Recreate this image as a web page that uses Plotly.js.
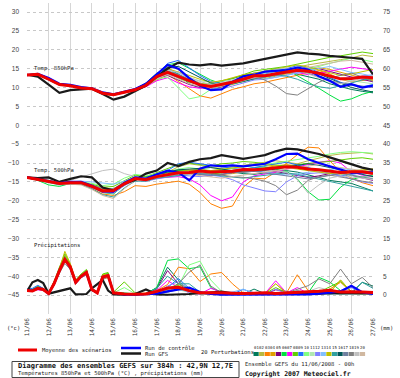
<!DOCTYPE html>
<html><head><meta charset="utf-8">
<script src="https://cdn.plot.ly/plotly-3.0.1.min.js"></script>
<style>body{margin:0;background:#fff}#c{width:400px;height:378px}</style>
</head><body><div id="c"></div>
<script>
// ---------- DATA ----------
const dateLabels = ['11/06','12/06','13/06','14/06','15/06','16/06','17/06','18/06','19/06','20/06','21/06','22/06','23/06','24/06','25/06','26/06','27/06'];
const dayHours = [0,24,48,72,96,120,144,168,192,216,240,264,288,312,336,360,384];
const hours12 = [0,12,24,36,48,60,72,84,96,108,120,132,144,156,168,180,192,204,216,228,240,252,264,276,288,300,312,324,336,348,360,372,384];
const precipHours = [0,6,12,18,24,30,36,42,48,54,60,66,72,78,84,90,96,108,120,132,144,156,168,180,192,204,216,228,240,252,264,276,288,300,312,324,336,348,360,372,384];
const leftTicks = [-45,-40,-35,-30,-25,-20,-15,-10,-5,0,5,10,15,20,25,30];
const rightTicks = [0,5,10,15,20,25,30,35,40,45,50,55,60,65,70,75];
const pertLabels = ['01','02','03','04','05','06','07','08','09','10','11','12','13','14','15','16','17','18','19','20'];
const pertColors = ['#007a5a','#b8b840','#ff8000','#e0a000','#800080','#00e040','#ff00ff','#60d000','#2070ff','#80ff80','#b0e8b0','#8080ff','#80c0ff','#c0c000','#30a0a0','#005858','#7080a0','#808080','#c0c0c0','#d0b8a0'];

// Temperature 850 hPa (°C), 12-hourly
const mean850 = [13.3,13.5,12.2,10.8,10.5,9.9,9.7,8.5,8.1,8.7,9.4,10.6,12.9,14.0,12.9,11.7,10.7,10.3,10.8,11.4,12.2,13.1,13.1,13.7,14.1,14.6,14.3,13.8,13.0,12.3,12.4,12.8,12.6];
const control850 = [13.3,13.6,12.5,11.0,10.7,10.1,9.8,8.7,8.2,8.8,9.6,11.0,13.5,16.0,15.0,12.5,10.5,9.3,9.5,11.5,13.0,13.4,14.2,14.4,14.6,15.3,14.8,13.0,11.8,10.2,10.9,10.0,10.5];
const gfs850 = [13.4,12.9,10.8,8.6,9.3,9.5,9.7,8.3,6.8,7.6,9.0,10.5,12.8,15.0,16.6,16.1,15.9,16.2,15.8,16.1,16.4,17.0,17.6,18.2,18.6,19.3,19.0,18.8,18.4,18.2,17.9,17.6,13.5];
const pert850 = [
[13.4,13.6,12.4,11.0,10.6,10.0,9.6,8.4,8.0,8.8,9.6,11.2,13.8,15.2,13.5,11.0,10.0,10.8,11.5,12.4,13.2,13.8,14.0,14.5,14.2,13.5,12.8,12.2,11.0,10.2,9.5,9.0,8.6],
[13.2,13.4,12.0,10.6,10.4,9.8,9.8,8.6,8.2,8.6,9.2,10.2,12.4,15.8,14.8,12.5,11.2,10.4,11.0,12.0,12.8,13.0,12.4,13.0,14.2,15.4,16.0,16.5,17.0,17.4,17.8,18.6,18.2],
[13.3,13.6,12.3,10.9,10.6,10.0,9.8,8.6,8.2,8.9,9.5,10.4,12.0,13.4,11.6,9.6,7.8,7.2,8.4,9.5,10.2,11.0,11.4,12.0,12.6,13.2,13.8,14.5,13.6,12.2,11.5,11.8,12.2],
[13.3,13.5,12.2,10.8,10.5,9.9,9.6,8.4,8.0,8.6,9.3,10.8,13.2,14.5,13.0,12.0,11.0,10.5,10.2,10.8,11.6,12.5,13.0,13.2,13.6,14.0,14.6,15.2,14.8,14.0,13.2,12.5,11.8],
[13.2,13.4,12.1,10.7,10.4,10.0,9.8,8.6,8.1,8.7,9.3,10.5,12.6,13.2,12.0,10.8,10.0,9.6,10.2,11.0,11.8,12.6,12.8,13.4,14.0,14.8,15.4,15.0,14.2,13.6,12.8,12.2,11.5],
[13.4,13.6,12.4,11.0,10.6,10.0,9.7,8.4,8.0,8.8,9.6,11.0,13.6,16.0,16.6,15.0,13.4,12.0,11.0,11.8,12.4,13.4,14.2,15.0,14.8,13.2,11.5,9.8,8.0,6.4,7.0,8.2,9.0],
[13.3,13.7,12.6,11.0,10.6,9.8,9.7,8.5,8.2,8.8,9.4,10.2,11.8,12.6,11.2,10.2,9.8,10.2,10.8,11.2,12.0,12.8,13.2,13.8,14.4,14.0,13.4,13.8,14.4,15.0,15.4,15.0,14.6],
[13.3,13.5,12.2,10.9,10.6,9.9,9.5,8.3,7.9,8.6,9.4,10.6,12.8,14.2,12.5,11.4,10.8,11.2,11.8,12.4,13.4,14.4,14.8,15.2,15.6,16.2,16.8,17.5,18.0,18.4,18.8,19.4,19.0],
[13.4,13.5,12.3,10.8,10.4,9.9,9.8,8.6,8.3,8.8,9.4,10.8,13.4,16.4,17.2,15.2,13.2,11.6,11.0,11.8,12.6,13.2,13.6,14.2,15.0,15.8,15.2,14.0,12.6,11.4,10.6,10.2,10.8],
[13.2,13.4,12.1,10.7,10.5,10.0,9.7,8.5,8.1,8.7,9.3,10.4,12.2,12.8,10.0,7.0,7.6,9.5,10.4,11.0,11.6,12.2,12.8,13.4,14.0,14.4,15.0,15.6,16.4,17.2,17.8,17.4,16.8],
[13.3,13.5,12.2,10.8,10.5,9.9,9.7,8.5,8.1,8.7,9.4,10.6,12.6,14.0,13.2,12.4,11.8,11.4,11.6,12.0,12.6,13.4,13.8,14.2,14.6,15.0,14.4,13.6,12.8,12.2,11.8,11.4,11.0],
[13.3,13.6,12.3,10.9,10.5,9.9,9.6,8.4,8.0,8.6,9.5,10.8,13.0,14.8,14.0,12.6,11.0,10.0,9.6,10.4,11.2,12.0,12.2,12.8,13.2,13.8,14.2,13.8,13.0,12.4,12.6,13.0,13.4],
[13.2,13.4,12.0,10.6,10.4,10.0,9.8,8.7,8.3,8.9,9.5,10.5,12.4,13.6,12.6,11.8,10.6,10.0,10.6,11.4,12.2,12.6,12.2,12.6,13.2,14.0,14.6,15.2,15.6,14.8,14.0,13.6,13.0],
[13.3,13.5,12.2,10.8,10.5,9.9,9.7,8.5,8.1,8.7,9.4,10.8,13.2,15.0,14.2,13.2,12.2,11.4,11.8,12.6,13.4,13.8,14.4,15.0,15.6,16.0,15.4,14.6,13.8,13.2,13.6,14.2,14.8],
[13.4,13.5,12.2,10.8,10.4,9.8,9.6,8.4,8.0,8.7,9.4,10.6,12.8,14.4,13.6,12.0,10.8,10.2,10.6,11.2,11.8,12.4,13.0,13.4,13.0,12.2,11.0,10.2,9.8,10.4,11.2,12.0,12.4],
[13.3,13.5,12.2,10.8,10.5,10.0,9.7,8.5,8.1,8.7,9.4,10.6,13.0,15.4,15.6,14.2,12.6,11.2,10.8,11.0,11.6,12.4,13.2,14.0,14.6,15.2,14.8,13.6,12.4,11.0,10.0,9.4,8.8],
[13.3,13.4,12.2,10.8,10.5,9.9,9.7,8.5,8.1,8.7,9.4,10.6,12.6,13.8,12.8,11.6,10.6,10.4,10.8,11.4,12.0,12.4,12.8,13.2,13.8,14.4,13.8,12.8,11.8,11.2,10.8,10.4,10.0],
[13.3,13.5,12.2,10.8,10.5,9.9,9.7,8.5,8.1,8.7,9.4,10.6,12.8,14.2,13.4,12.2,11.0,10.4,10.6,11.6,12.6,13.0,12.0,10.4,8.4,8.0,9.6,11.4,12.6,13.2,13.8,12.8,11.6],
[13.3,13.5,12.2,10.8,10.5,9.9,9.7,8.5,8.1,8.7,9.4,10.6,12.8,14.6,14.0,12.8,11.6,10.8,11.2,12.0,12.8,13.6,14.0,14.8,15.2,14.6,13.6,12.6,11.6,11.0,11.6,12.4,13.2],
[13.3,13.5,12.2,10.8,10.5,9.9,9.7,8.5,8.1,8.7,9.4,10.6,12.4,13.4,12.2,11.0,10.2,10.0,10.4,11.0,11.8,12.6,13.0,13.6,14.2,14.8,15.4,15.8,16.4,17.0,17.2,16.8,16.2]
];

// Temperature 500 hPa (°C), 12-hourly
const mean500 = [-13.8,-14.3,-14.8,-15.4,-15.2,-15.2,-16.2,-17.4,-17.3,-15.5,-14.1,-14.4,-13.6,-13.1,-12.6,-12.5,-12.1,-12.4,-12.3,-12.2,-11.7,-11.8,-11.6,-11.4,-11.0,-11.1,-11.6,-11.8,-12.1,-12.5,-12.3,-12.3,-12.8];
const control500 = [-13.8,-14.3,-14.7,-15.3,-15.0,-15.0,-16.0,-17.5,-17.5,-15.3,-13.8,-14.2,-13.0,-12.0,-12.5,-14.6,-11.5,-10.6,-10.8,-10.6,-10.9,-10.5,-10.2,-9.0,-7.6,-7.5,-9.0,-10.0,-10.8,-11.6,-12.6,-12.5,-12.5];
const gfs500 = [-13.8,-14.0,-13.8,-15.0,-14.2,-13.5,-13.8,-16.5,-17.3,-15.5,-14.5,-12.8,-12.0,-10.0,-10.8,-9.7,-9.0,-8.7,-7.9,-8.5,-8.9,-8.4,-7.9,-6.9,-6.2,-6.4,-6.9,-7.6,-8.5,-9.4,-10.4,-11.2,-11.8];
const pert500 = [
[-13.8,-14.2,-14.6,-15.2,-15.0,-15.0,-16.4,-17.8,-17.6,-15.2,-13.6,-14.0,-13.0,-12.2,-11.8,-12.0,-11.6,-12.2,-12.0,-12.4,-12.8,-13.0,-12.6,-12.4,-12.0,-12.4,-13.2,-14.0,-14.6,-15.0,-15.4,-16.4,-17.4],
[-13.9,-14.4,-14.9,-15.6,-15.3,-15.0,-15.8,-16.6,-16.8,-15.4,-14.4,-14.6,-13.4,-12.4,-11.0,-10.2,-10.6,-11.2,-11.4,-11.0,-10.6,-10.0,-9.6,-9.4,-9.8,-10.2,-9.4,-8.6,-8.0,-7.6,-7.4,-7.2,-7.6],
[-13.8,-14.3,-14.8,-15.4,-15.4,-15.6,-16.8,-18.2,-18.6,-17.6,-16.0,-16.2,-15.6,-15.2,-14.8,-15.6,-17.8,-20.8,-22.0,-21.4,-16.4,-14.0,-14.2,-12.4,-10.0,-7.8,-5.8,-6.0,-9.4,-12.4,-14.0,-15.2,-16.0],
[-13.7,-14.2,-14.6,-15.2,-15.1,-15.2,-16.0,-17.0,-17.2,-15.6,-14.2,-14.4,-13.6,-13.0,-12.2,-11.8,-12.0,-12.6,-13.0,-12.8,-12.2,-11.8,-11.2,-10.8,-10.4,-10.8,-11.4,-12.0,-12.6,-13.0,-12.6,-12.0,-11.6],
[-13.8,-14.4,-15.0,-15.6,-15.4,-15.2,-16.2,-17.6,-17.8,-15.8,-14.0,-14.2,-13.2,-12.6,-12.2,-12.6,-13.0,-13.4,-13.0,-12.6,-12.0,-11.6,-11.8,-12.2,-12.8,-13.4,-13.8,-13.4,-12.8,-12.6,-13.2,-14.0,-14.6],
[-13.9,-14.6,-15.8,-16.2,-15.4,-15.0,-16.0,-17.8,-18.2,-15.8,-13.8,-14.0,-13.4,-12.6,-12.0,-12.2,-12.4,-12.8,-12.6,-12.0,-11.6,-11.2,-11.0,-11.6,-12.2,-14.2,-17.6,-19.8,-19.6,-16.4,-14.4,-13.6,-13.2],
[-13.8,-14.2,-14.7,-15.3,-15.2,-15.4,-16.4,-17.6,-17.4,-15.6,-14.4,-14.6,-14.0,-13.8,-13.6,-14.2,-15.8,-18.6,-20.0,-19.0,-15.0,-13.4,-13.0,-12.4,-11.6,-11.0,-10.2,-9.8,-9.4,-10.0,-12.4,-13.2,-13.6],
[-13.8,-14.3,-14.8,-15.4,-15.2,-15.0,-15.6,-16.4,-16.2,-14.6,-13.2,-13.6,-12.6,-11.4,-10.4,-10.0,-10.4,-10.8,-10.2,-10.0,-9.6,-9.8,-10.2,-10.6,-10.8,-10.4,-10.0,-9.8,-9.6,-9.2,-8.8,-8.6,-9.0],
[-13.7,-14.2,-14.8,-15.4,-15.2,-15.2,-16.2,-17.4,-17.2,-15.4,-14.0,-14.2,-13.4,-12.0,-10.2,-9.8,-10.2,-10.6,-11.0,-11.4,-11.8,-11.2,-10.6,-10.2,-9.8,-10.4,-11.2,-12.0,-12.8,-13.4,-13.0,-12.6,-12.2],
[-13.8,-14.4,-15.0,-15.6,-15.4,-15.0,-15.4,-16.0,-15.6,-14.0,-13.0,-13.4,-12.8,-12.4,-11.6,-11.2,-11.6,-12.0,-11.8,-11.4,-11.0,-10.6,-10.4,-10.0,-9.6,-9.2,-8.8,-8.2,-7.6,-7.2,-7.0,-7.2,-7.4],
[-13.8,-14.3,-14.8,-15.4,-15.2,-15.2,-16.2,-17.4,-17.4,-15.6,-14.2,-14.4,-13.6,-13.0,-12.4,-12.4,-12.2,-12.6,-12.4,-12.2,-11.8,-11.8,-11.6,-11.4,-11.2,-11.4,-11.8,-12.2,-12.6,-13.0,-13.4,-13.8,-14.0],
[-13.8,-14.3,-14.8,-15.4,-15.2,-15.2,-16.4,-17.8,-18.0,-16.0,-14.6,-14.8,-14.2,-13.6,-13.2,-13.4,-13.6,-13.2,-13.6,-14.4,-15.8,-16.6,-17.4,-17.6,-15.0,-13.4,-12.8,-12.6,-12.8,-13.4,-14.2,-15.0,-15.4],
[-13.8,-14.2,-14.7,-15.2,-15.0,-14.8,-15.0,-15.4,-15.6,-14.8,-13.8,-14.0,-13.6,-13.2,-13.0,-12.8,-12.6,-12.4,-12.2,-12.0,-11.8,-12.0,-12.4,-12.8,-13.2,-12.8,-12.4,-12.0,-11.6,-11.4,-11.8,-12.2,-12.6],
[-13.8,-14.3,-14.8,-15.4,-15.2,-15.2,-16.2,-17.4,-17.2,-15.4,-14.0,-14.2,-13.4,-12.8,-12.2,-12.0,-11.8,-12.0,-11.6,-11.2,-10.8,-10.6,-10.4,-10.8,-11.2,-11.6,-12.0,-12.4,-12.8,-12.4,-12.0,-11.8,-11.6],
[-13.9,-14.5,-15.2,-15.8,-15.6,-15.6,-16.8,-18.4,-19.0,-16.6,-14.8,-14.8,-14.0,-13.6,-13.2,-13.0,-12.8,-13.0,-13.4,-13.8,-14.0,-13.6,-13.2,-12.8,-12.6,-13.0,-13.6,-14.2,-14.8,-15.4,-16.0,-16.8,-17.4],
[-13.8,-14.3,-14.8,-15.4,-15.2,-15.2,-16.2,-17.4,-17.2,-15.2,-13.8,-13.8,-13.0,-12.4,-11.8,-11.6,-11.4,-11.2,-11.6,-12.0,-12.4,-12.2,-12.0,-11.6,-11.0,-10.6,-10.2,-10.6,-11.2,-11.8,-12.4,-13.0,-13.6],
[-13.8,-14.3,-14.8,-15.4,-15.2,-15.0,-15.8,-16.8,-16.8,-15.0,-13.8,-14.0,-13.4,-13.0,-12.6,-12.8,-13.0,-13.2,-13.0,-12.6,-12.4,-12.2,-12.6,-13.0,-13.4,-13.8,-14.2,-13.8,-13.2,-12.8,-13.2,-13.8,-14.2],
[-13.8,-14.3,-14.8,-15.4,-15.2,-15.2,-16.2,-17.4,-17.2,-15.4,-14.0,-14.4,-13.8,-13.4,-13.0,-12.8,-12.6,-12.8,-13.2,-13.6,-13.8,-14.2,-14.8,-16.0,-18.4,-17.2,-14.6,-13.6,-13.2,-13.6,-14.2,-14.8,-15.2],
[-13.8,-14.2,-14.6,-15.0,-14.6,-13.8,-13.0,-12.0,-11.6,-12.8,-13.6,-14.0,-13.4,-12.8,-12.4,-12.2,-12.4,-12.6,-12.2,-11.8,-11.6,-11.4,-11.8,-12.0,-12.4,-14.4,-18.0,-15.8,-14.0,-13.4,-13.6,-14.0,-14.4],
[-13.8,-14.4,-15.0,-15.6,-15.6,-15.8,-17.0,-18.6,-19.4,-16.8,-14.6,-14.6,-13.8,-13.2,-12.8,-13.0,-13.4,-13.8,-14.0,-13.6,-13.2,-12.8,-12.4,-12.0,-11.6,-11.2,-10.8,-10.4,-10.8,-11.2,-11.6,-12.0,-12.4]
];

// Precipitation (mm) on precipHours
const meanPrecip = [1.2,1.1,1.8,1.5,0.4,3.0,6.5,9.5,7.5,3.4,5.0,6.0,1.5,0.6,4.8,5.2,0.6,0.3,0.2,0.3,1.0,1.9,2.1,1.2,0.6,0.7,0.6,0.5,0.4,0.5,0.6,0.4,0.6,0.7,0.9,1.0,1.3,0.8,0.9,0.8,0.7];
const controlPrecip = [1.2,1.2,1.9,1.5,0.4,3.0,6.5,9.4,7.4,3.4,5.0,6.0,1.5,0.6,4.8,5.2,0.6,0.2,0.1,0.2,0.4,1.0,1.6,2.0,0.8,0.3,0.1,0.1,0.1,0.1,0.1,0.1,0.1,0.1,0.2,0.4,0.6,1.0,2.5,0.8,0.3];
const gfsPrecip = [1.0,3.4,4.0,3.2,0.4,0.8,1.0,1.4,1.8,0.2,0.2,0.3,1.8,3.0,4.0,1.2,0.2,0.1,0.3,1.5,0.2,0.1,0.1,0.3,0.5,0.8,0.9,0.5,0.3,0.3,0.2,0.3,0.4,0.3,0.3,0.4,0.6,0.5,0.5,0.6,0.5];
const pertPrecip = [
[1.0,1.4,2.2,1.6,0.3,3.2,7.0,9.8,7.0,3.0,5.4,6.4,1.2,0.5,5.0,5.6,0.4,0.2,0.1,0.3,2.0,7.4,4.0,1.0,0.4,0.2,0.1,0.2,0.3,1.6,0.4,0.2,0.3,0.4,0.6,0.8,0.5,0.6,0.4,3.4,2.4],
[1.4,1.0,1.6,1.2,0.5,2.8,6.0,10.6,8.0,3.6,4.8,5.4,1.6,0.8,4.2,4.6,0.8,0.4,0.2,0.2,0.4,1.2,2.4,1.0,0.6,0.4,0.2,0.1,0.2,0.3,0.6,3.0,0.4,0.3,0.6,0.4,1.2,4.0,0.8,0.4,0.3],
[1.2,1.2,1.8,1.4,0.4,3.0,6.8,9.4,7.6,3.4,4.8,5.8,1.4,0.5,4.6,5.0,0.6,0.4,0.2,0.6,1.2,2.8,7.4,7.0,3.6,5.6,6.0,3.0,0.6,0.4,0.3,0.4,0.6,5.4,1.2,0.6,1.6,3.4,0.8,0.6,0.4],
[1.1,1.3,1.9,1.7,0.5,3.4,6.6,9.0,7.2,3.8,5.2,6.2,1.8,0.7,5.2,5.4,0.5,0.2,0.1,0.2,0.6,1.4,2.2,1.2,0.6,0.4,0.3,0.2,0.2,0.4,0.5,0.3,0.2,0.6,0.4,0.3,0.4,0.6,0.5,0.4,0.3],
[1.2,1.1,1.6,1.4,0.4,2.8,6.2,9.2,7.8,3.2,5.0,5.8,1.4,0.6,4.6,5.0,0.6,0.3,0.2,0.4,1.6,6.5,3.0,1.2,0.4,0.3,0.2,0.2,0.3,0.4,0.3,1.4,1.0,0.4,0.3,0.4,0.6,0.5,0.4,0.3,0.2],
[1.3,1.2,2.0,1.5,0.4,3.2,7.2,10.2,7.8,3.6,5.4,6.6,1.6,0.6,5.4,5.8,0.7,0.6,0.3,0.4,2.0,9.2,9.6,7.0,7.5,2.0,0.6,0.3,0.2,0.4,0.3,0.2,0.3,0.4,0.6,4.7,3.5,1.2,0.6,0.4,0.3],
[1.0,1.0,1.4,1.2,0.2,2.6,6.0,9.0,7.0,3.0,4.6,5.4,1.2,0.5,4.4,4.8,0.4,0.2,0.1,0.2,1.2,3.9,2.0,0.6,0.3,1.8,0.8,0.3,0.2,0.3,0.4,3.8,0.6,2.0,0.4,0.3,0.5,0.6,0.4,0.8,1.0],
[1.4,1.6,2.4,1.8,0.6,3.6,7.4,11.0,8.2,4.0,5.6,6.8,1.8,0.8,5.6,6.0,0.8,3.5,0.6,0.4,0.8,1.6,3.0,2.0,0.8,0.4,0.3,0.2,0.3,0.2,0.4,2.0,0.6,0.4,0.6,0.8,2.2,3.6,1.0,0.6,0.4],
[1.6,1.8,2.6,1.8,0.5,3.0,6.4,9.2,7.4,3.2,4.8,5.6,1.4,0.6,4.6,5.0,0.5,0.2,0.1,0.2,0.6,2.0,4.4,1.8,0.5,0.3,0.2,0.3,1.5,0.6,0.2,0.2,0.3,0.2,0.3,0.4,0.6,1.2,2.5,0.8,0.4],
[1.2,1.1,1.7,1.4,0.4,3.2,6.8,10.0,7.6,3.4,5.0,6.2,1.6,0.6,5.0,5.4,0.6,2.0,0.4,0.3,0.6,1.2,2.4,8.0,9.0,4.0,1.0,0.4,0.3,0.2,0.2,0.3,0.4,0.3,0.4,0.6,0.8,0.5,0.4,0.3,0.2],
[1.1,1.0,1.6,1.3,0.3,2.8,6.2,9.4,7.4,3.2,4.8,5.8,1.4,0.5,4.6,5.0,0.5,0.2,0.1,0.2,0.4,0.8,1.4,0.8,0.4,0.3,0.2,0.2,0.2,0.3,0.2,0.4,0.3,0.3,0.4,0.5,0.6,0.4,0.3,0.4,0.3],
[1.2,1.2,1.8,1.5,0.4,3.0,6.4,9.2,7.2,3.4,5.0,6.0,1.5,0.6,4.8,5.2,0.6,0.3,0.2,0.4,0.8,2.4,3.6,1.4,0.5,0.3,0.6,0.8,0.4,0.3,0.2,1.6,0.4,0.3,0.4,0.6,0.4,0.8,2.0,0.6,0.4],
[1.3,1.2,2.0,1.6,0.4,3.0,6.6,9.6,7.6,3.4,5.2,6.0,1.6,0.6,4.8,5.4,0.6,0.2,0.1,0.3,0.6,1.0,1.6,0.8,0.4,0.3,0.2,0.8,1.6,0.4,0.2,0.3,0.2,0.3,0.4,0.3,0.6,0.4,0.3,0.6,0.4],
[1.2,1.0,1.6,1.4,0.4,3.4,7.0,11.6,8.4,3.6,5.4,6.4,1.6,0.7,5.4,5.6,0.6,0.4,0.2,0.3,0.6,1.6,2.6,1.2,0.6,0.4,0.3,0.2,0.3,0.4,0.3,3.0,0.6,0.4,0.3,0.5,0.6,4.0,0.8,0.4,0.3],
[1.1,1.2,1.8,1.5,0.4,3.0,6.4,9.4,7.4,3.4,5.0,5.8,1.4,0.6,4.8,5.2,0.6,0.3,0.2,0.4,1.8,5.0,3.0,3.0,0.8,0.4,0.3,0.2,0.3,0.2,0.3,0.4,0.3,0.4,0.6,0.4,0.3,0.6,0.8,3.4,1.8],
[1.2,1.2,1.8,1.5,0.4,3.0,6.6,9.6,7.6,3.4,5.0,6.0,1.5,0.6,4.8,5.2,0.6,0.2,0.1,0.2,0.6,1.4,2.0,1.0,0.4,0.3,0.2,0.2,0.2,0.3,0.2,0.2,0.3,0.3,0.4,0.5,0.4,0.3,0.4,0.3,0.2],
[1.2,1.2,1.8,1.5,0.4,3.0,6.4,9.0,7.2,3.4,5.0,5.8,1.5,0.6,4.6,5.0,0.6,0.2,0.1,0.2,0.4,0.8,1.6,1.0,0.4,0.3,0.2,0.2,0.2,0.2,0.3,0.4,0.3,1.2,0.6,0.4,0.3,0.6,0.4,0.6,0.4],
[1.0,1.0,1.6,1.4,0.4,2.6,5.8,8.4,6.8,3.0,4.6,5.4,1.2,0.5,4.4,4.8,0.5,0.2,0.1,0.2,0.6,1.2,3.0,6.1,8.0,2.4,0.6,0.3,0.2,0.2,0.3,0.4,0.6,1.5,2.5,4.3,3.0,6.9,3.0,4.7,2.0],
[1.1,1.1,1.7,1.4,0.4,2.8,6.2,9.0,7.2,3.2,4.8,5.6,1.4,0.6,4.6,5.0,0.6,0.2,0.1,0.2,0.4,1.0,1.8,1.0,0.4,0.3,0.2,0.2,0.2,0.2,0.3,0.6,0.8,0.5,1.0,2.0,1.2,0.6,0.5,0.6,0.4],
[1.2,1.1,1.8,1.5,0.4,3.2,6.6,9.6,7.4,3.4,5.0,6.0,1.5,0.6,5.0,5.4,0.6,0.3,0.2,0.3,0.6,1.2,2.0,1.0,0.4,0.3,0.2,0.2,0.3,0.3,0.2,0.3,0.3,0.4,0.3,0.4,0.6,0.5,0.4,0.3,0.2]
];

// ---------- CHART ----------
const W = 400, H = 378, ML = 27, MR = 27, MT = 3, MB = 64;
const PW = W - ML - MR, PH = H - MT - MB;
const px = x => (x - ML) / PW;
const py = y => (H - MB - y) / PH;
const mono = 'DejaVu Sans Mono, Liberation Mono, monospace';
const txt = '#222';

const traces = [];
for (let i = 0; i < 20; i++) {
  traces.push({x: hours12, y: pert850[i], mode: 'lines', line: {color: pertColors[i], width: 1}, yaxis: 'y', hoverinfo: 'skip'});
  traces.push({x: hours12, y: pert500[i], mode: 'lines', line: {color: pertColors[i], width: 1}, yaxis: 'y', hoverinfo: 'skip'});
  traces.push({x: precipHours, y: pertPrecip[i], mode: 'lines', line: {color: pertColors[i], width: 1}, yaxis: 'y2', hoverinfo: 'skip'});
}
const mains = [
  [gfs850, gfs500, gfsPrecip, '#1a1a1a', 2.2],
  [control850, control500, controlPrecip, '#0000ff', 2.2],
  [mean850, mean500, meanPrecip, '#ee0000', 3]
];
mains.forEach(([a, b, c, col, w]) => {
  traces.push({x: hours12, y: a, mode: 'lines', line: {color: col, width: w}, yaxis: 'y'});
  traces.push({x: hours12, y: b, mode: 'lines', line: {color: col, width: w}, yaxis: 'y'});
  traces.push({x: precipHours, y: c, mode: 'lines', line: {color: col, width: w}, yaxis: 'y2'});
});

const ann = [];
const shapes = [];
function label(t, x, y, opts) {
  ann.push(Object.assign({text: t, x: px(x), y: py(y), xref: 'paper', yref: 'paper', showarrow: false,
    xanchor: 'left', yanchor: 'middle', font: {family: mono, size: 5.5, color: txt}}, opts || {}));
}
label('Temp. 850hPa', 32, 68);
label('Temp. 500hPa', 32, 170);
label('Précipitations', 32, 245.5);
label('(°c)', 13, 328, {xanchor: 'center'});
label('(mm)', 386, 328, {xanchor: 'center'});

// legend
shapes.push({type: 'line', xref: 'paper', yref: 'paper', x0: px(18), x1: px(37), y0: py(350), y1: py(350), line: {color: '#ee0000', width: 3}});
label('Moyenne des scénarios', 40, 350);
shapes.push({type: 'line', xref: 'paper', yref: 'paper', x0: px(121), x1: px(141), y0: py(348), y1: py(348), line: {color: '#0000ff', width: 2.5}});
shapes.push({type: 'line', xref: 'paper', yref: 'paper', x0: px(121), x1: px(141), y0: py(353.5), y1: py(353.5), line: {color: '#1a1a1a', width: 2.5}});
label('Run de contrôle', 143, 347.5);
label('Run GFS', 143, 354);
label('20 Perturbations', 199, 352);
for (let i = 0; i < 20; i++) {
  const x0 = 253.5 + i * 5.6;
  shapes.push({type: 'rect', xref: 'paper', yref: 'paper', x0: px(x0), x1: px(x0 + 5.2), y0: py(356), y1: py(352), line: {width: 0}, fillcolor: pertColors[i]});
  label(pertLabels[i], x0 + 2.6, 347.5, {xanchor: 'center', font: {family: mono, size: 4, color: txt}});
}
// bottom box
shapes.push({type: 'rect', xref: 'paper', yref: 'paper', x0: px(12), x1: px(239), y0: py(377.5), y1: py(361.5), line: {color: '#444', width: 1}, fillcolor: 'rgba(0,0,0,0)'});
label('<b>Diagramme des ensembles GEFS sur 384h : 42,9N 12,7E</b>', 16, 366, {font: {family: mono, size: 7, color: '#111'}});
label('Températures 850hPa et 500hPa (°C) , précipitations (mm)', 16, 373.5);
label('Ensemble GEFS du 11/06/2008 - 00h', 243, 363.5);
label('<b>Copyright 2007 Meteociel.fr</b>', 243, 373.5, {font: {family: mono, size: 6.5, color: '#111'}});

const layout = {
  width: W, height: H,
  margin: {l: ML, r: MR, t: MT, b: MB, pad: 0},
  paper_bgcolor: '#ffffff', plot_bgcolor: '#ffffff',
  showlegend: false,
  font: {family: 'Liberation Sans, DejaVu Sans, sans-serif', size: 6, color: '#444'},
  xaxis: {range: [0, 384], tickmode: 'array', tickvals: dayHours, ticktext: dateLabels, tickangle: -90,
    showgrid: true, gridcolor: '#d6d6d6', gridwidth: 1, zeroline: false, showline: false, ticks: '',
    ticklabelstandoff: 2, tickfont: {family: mono, size: 6, color: '#333'}},
  yaxis: {range: [-50, 32.4], tickmode: 'array', tickvals: leftTicks, showgrid: true, gridcolor: '#c8c8c8',
    griddash: 'dot', gridwidth: 1, zeroline: false, showline: false, ticks: '', ticklabelstandoff: 7,
    tickfont: {family: 'Liberation Sans, sans-serif', size: 6.5, color: '#444'}},
  yaxis2: {range: [-5, 77.4], overlaying: 'y', side: 'right', tickmode: 'array', tickvals: rightTicks,
    showgrid: false, zeroline: false, showline: false, ticks: '', ticklabelstandoff: 9,
    tickfont: {family: 'Liberation Sans, sans-serif', size: 6.5, color: '#444'}},
  annotations: ann,
  shapes: shapes
};
Plotly.newPlot('c', traces, layout, {staticPlot: true, displayModeBar: false});
</script>
</body></html>
